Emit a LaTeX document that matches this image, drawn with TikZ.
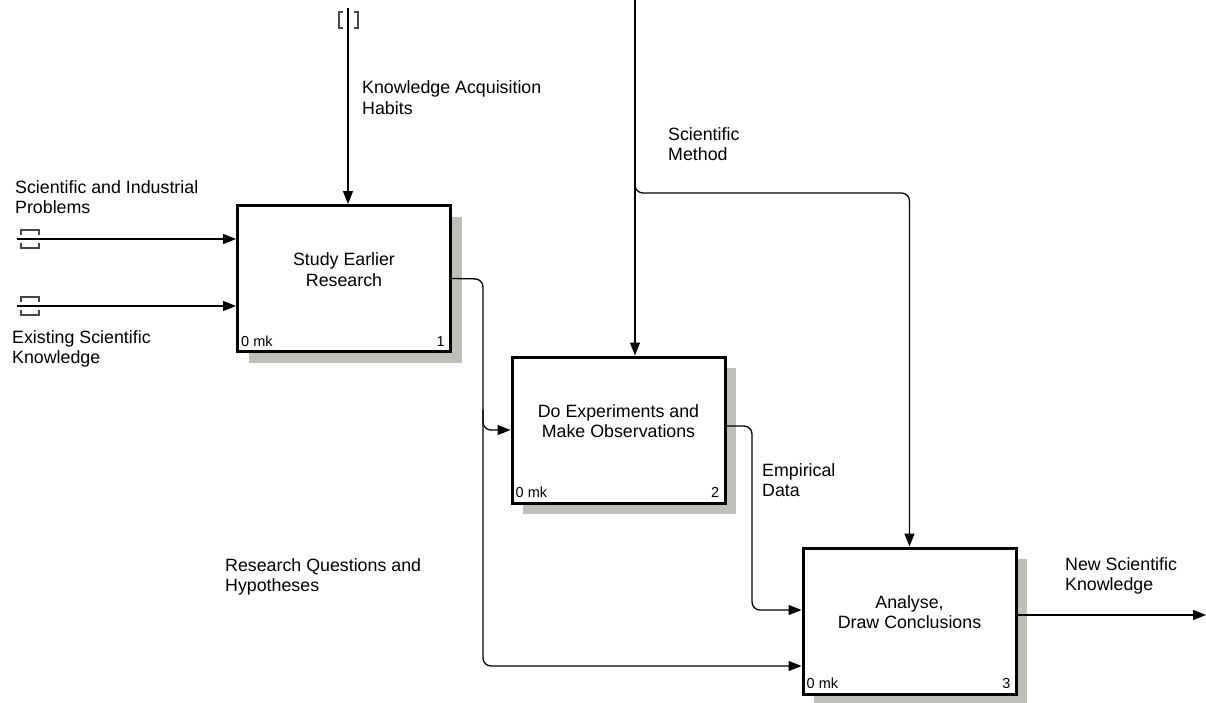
\documentclass[tikz,border=0pt]{standalone}
\usepackage{fontspec}
\setmainfont{Liberation Sans}
\usetikzlibrary{arrows.meta,shadows}
\definecolor{shadowgray}{RGB}{192,190,184}
\definecolor{tunnelgray}{RGB}{70,70,70}
\newcommand{\twolines}[2]{\begin{tabular}[t]{@{}l@{}}#1\\#2\end{tabular}}
\begin{document}
\begin{tikzpicture}[x=1pt,y=-1pt,
  font=\fontsize{17.8}{20.7}\selectfont,
  box/.style={draw, line width=3pt, fill=white, inner sep=0pt,
    minimum width=213pt, minimum height=146pt,
    drop shadow={shadow xshift=11pt, shadow yshift=-11pt, fill=shadowgray, opacity=1}},
  boxtext/.style={align=center, inner sep=0pt},
  lbl/.style={anchor=base west, inner sep=0pt},
  tag/.style={font=\fontsize{14.5}{17}\selectfont, inner sep=0pt},
  flow/.style={line width=1.3pt, rounded corners=8pt, -{Triangle[length=13pt,width=10pt]}},
  tunnel/.style={line width=1.1pt, draw=tunnelgray}
]
\useasboundingbox (0,0) rectangle (1206,702);

% activity boxes
\node[box] (b1) at (344,278.5) {};
\node[box] (b2) at (618.5,430) {};
\node[box] (b3) at (909.5,621) {};

\node[boxtext] (t1) at ([yshift=9pt]b1.center) {Study Earlier\\Research};
\node[boxtext] (t2) at ([yshift=9pt]b2.center) {Do Experiments and\\Make Observations};
\node[boxtext] (t3) at ([yshift=9pt]b3.center) {Analyse,\\Draw Conclusions};

\node[tag, anchor=base west] (m1) at ([shift={(5pt,7pt)}]b1.south west) {0 mk};
\node[tag, anchor=base east] (n1) at ([shift={(-7pt,7pt)}]b1.south east) {1};
\node[tag, anchor=base west] (m2) at ([shift={(5pt,7pt)}]b2.south west) {0 mk};
\node[tag, anchor=base east] (n2) at ([shift={(-7pt,7pt)}]b2.south east) {2};
\node[tag, anchor=base west] (m3) at ([shift={(5pt,7pt)}]b3.south west) {0 mk};
\node[tag, anchor=base east] (n3) at ([shift={(-7pt,7pt)}]b3.south east) {3};

% arrow labels
\node[lbl] (l1) at (362,93.5) {\twolines{Knowledge Acquisition}{Habits}};
\node[lbl] (l2) at (668,140) {\twolines{Scientific}{Method}};
\node[lbl] (l3) at (15,193) {\twolines{Scientific and Industrial}{Problems}};
\node[lbl] (l4) at (12,343) {\twolines{Existing Scientific}{Knowledge}};
\node[lbl] (l5) at (762,476) {\twolines{Empirical}{Data}};
\node[lbl] (l6) at (1065,570) {\twolines{New Scientific}{Knowledge}};
\node[lbl] (l7) at (225,571) {\twolines{Research Questions and}{Hypotheses}};

% boundary arrows
\coordinate (src1) at (348,8);
\coordinate (src2) at (17,239);
\coordinate (src3) at (17,306);
\coordinate (src4) at (635,0);
\coordinate (sink) at (1206,615);

\draw[flow] (src1) -- (src1 |- b1.north);
\draw[flow] (src2) -- (src2 -| b1.west);
\draw[flow] (src3) -- (src3 -| b1.west);
\draw[flow] (src4) -- (src4 |- b2.north);
\draw[flow] (b3.east |- sink) -- (sink);

% tunnelled arrow ends
\draw[tunnel] (343,12) -- (339,12) -- (339,28) -- (343,28);
\draw[tunnel] (354,12) -- (358,12) -- (358,28) -- (354,28);
\draw[tunnel] (21,235) -- (21,230) -- (39,230) -- (39,235);
\draw[tunnel] (21,243) -- (21,248) -- (39,248) -- (39,243);
\draw[tunnel] (21,302) -- (21,297) -- (39,297) -- (39,302);
\draw[tunnel] (21,310) -- (21,315) -- (39,315) -- (39,310);

% internal arrows
\coordinate (c1) at (483,279);
\coordinate (c2) at (483,430);
\coordinate (c3) at (483,666);
\draw[flow] (b1.east) -- (c1) -- (c2) -- (c2 -| b2.west);
\draw[flow] ([yshift=20pt]c2) -- (c3) -- (c3 -| b3.west);

\coordinate (c4) at (635,193);
\draw[flow] ([yshift=20pt]c4) -- (c4) -- (c4 -| b3.north) -- (b3.north);

\coordinate (c6) at (752,426);
\coordinate (c7) at (752,610);
\draw[flow] (b2.east |- c6) -- (c6) -- (c7) -- (c7 -| b3.west);
\end{tikzpicture}
\end{document}
